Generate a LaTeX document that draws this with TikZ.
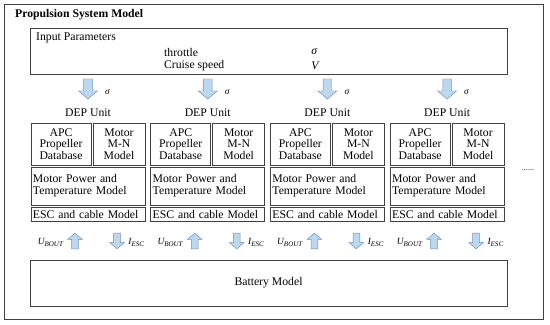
\documentclass[tikz,border=0pt]{standalone}
\usepackage{fontspec}
\setmainfont{Liberation Serif}
\usetikzlibrary{positioning}

\definecolor{arrowfill}{HTML}{BDD7EE}
\definecolor{arrowline}{HTML}{6F90B8}
\definecolor{boxline}{HTML}{404040}

% block arrow pointing down, tip at (0,-0.3)
\tikzset{
    fatarrow/.pic={
        \draw[arrowline, fill=arrowfill, line join=miter]
            (-0.13, 0.3) -- (0.13, 0.3) -- (0.13, -0.06) -- (0.285, -0.06)
            -- (0, -0.3) -- (-0.285, -0.06) -- (-0.13, -0.06) -- cycle;
        \coordinate (-c) at (0, 0);
    }
}

\begin{document}
\begin{tikzpicture}[
    block/.style={rectangle, draw=boxline, thick, inner sep=1pt, font=\fontsize{10}{11}\selectfont},
    sig/.style={font=\fontsize{8}{9}\selectfont\itshape},
    label/.style={font=\fontsize{10}{11}\selectfont},
]
\useasboundingbox (0, 0) rectangle (16.5, 9.75);

% Outer frame and title
\draw[boxline, thick] (0.12, 0.18) rectangle (16.29, 9.63);
\node[label, font=\fontsize{10}{11}\selectfont\bfseries, anchor=west] (title) at (0.33, 9.3) {Propulsion System Model};

% Input parameters
\node[block, minimum width=14.31cm, minimum height=1.38cm] (inp) at (8.055, 8.22) {};
\node[label, anchor=west] (inptitle) at (0.96, 8.61) {Input Parameters};
\node[label, anchor=west] (thr) at (4.8, 8.19) {throttle};
\node[label, anchor=west] (spd) at (4.8, 7.77) {Cruise speed};
\node[label, anchor=west, font=\fontsize{10}{11}\selectfont\itshape] (thrsym) at (9.22, 8.19) {σ};
\node[label, anchor=west, font=\fontsize{10}{11}\selectfont\itshape] (spdsym) at (9.22, 7.77) {V};

% Battery
\node[block, minimum width=14.31cm, minimum height=1.38cm] (bat) at (8.055, 1.26) {Battery Model};

% DEP units
\foreach \i in {0,...,3} {
  \pgfmathsetmacro{\lx}{0.93 + 3.591*\i}
  \node[label] (dep\i) at (\lx+1.71, 6.36) {DEP Unit};
  \pic (in\i) at (\lx+1.71, 7.08) {fatarrow};
  \node[sig, anchor=west] (insig\i) at (\lx+2.1, 7.0) {σ};
  \node[block, minimum width=1.80cm, minimum height=1.26cm, align=center] (apc\i) at (\lx+0.90, 5.43)
      {APC\\[-1pt]Propeller\\[-1pt]Database};
  \node[block, minimum width=1.56cm, minimum height=1.26cm, align=center] (mn\i) at (\lx+2.64, 5.43)
      {Motor\\[-1pt]M-N\\[-1pt]Model};
  \node[block, minimum width=3.42cm, minimum height=1.14cm, text width=3.3cm, align=left] (mpt\i) at (\lx+1.71, 4.17)
      {Motor Power and\\[-1pt]Temperature Model};
  \node[block, minimum width=3.42cm, minimum height=0.42cm, inner sep=0pt, text width=3.3cm, align=left] (esc\i) at (\lx+1.71, 3.33)
      {ESC and cable Model};
  % battery links
  \pic[rotate=180, scale=0.78] (up\i) at (\lx+1.32, 2.52) {fatarrow};
  \node[sig, anchor=east] (ub\i) at (\lx+1.1, 2.48) {U\textsubscript{BOUT}};
  \pic[scale=0.78] (dn\i) at (\lx+2.58, 2.52) {fatarrow};
  \node[sig, anchor=west] (ie\i) at (\lx+2.8, 2.48) {I\textsubscript{ESC}};
}

% More units
\node[font=\scriptsize] (dots) at (15.84, 4.66) {......};

\end{tikzpicture}
\end{document}
